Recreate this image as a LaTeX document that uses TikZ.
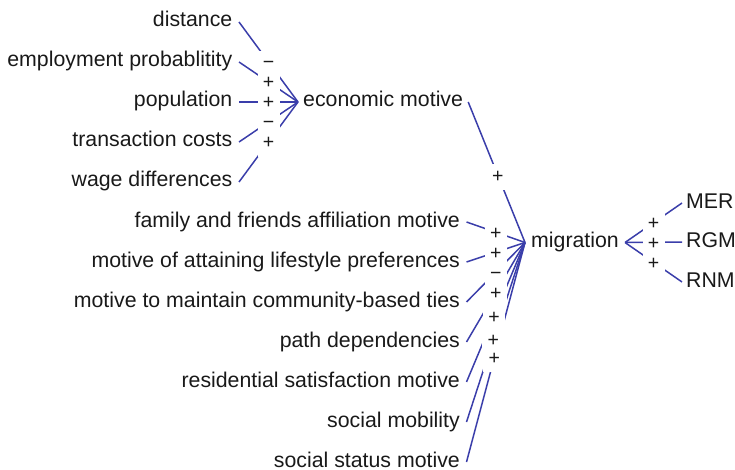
\documentclass[tikz,border=0pt]{standalone}
\usepackage{fontspec}
\setmainfont{Liberation Sans}
\usetikzlibrary{calc}
\pgfdeclarelayer{lines}
\pgfsetlayers{lines,main}
\definecolor{linkblue}{RGB}{58,62,170}
\definecolor{txt}{RGB}{25,25,25}
\tikzset{
  lbl/.style={inner ysep=0pt, text height=15pt, text depth=5pt, text=txt,
    font=\fontsize{21.3}{25}\selectfont},
  lft/.style={lbl, inner xsep=6.5pt, anchor=east},
  rgt/.style={lbl, inner xsep=5pt, anchor=west},
  link/.style={draw=linkblue, line width=1.5pt},
  sgn/.style={fill=white, inner sep=0pt, minimum width=22pt, text height=18.4pt,
    text depth=7.6pt, anchor=base, yshift=-7pt, text=txt,
    font=\fontsize{19.5}{24}\selectfont}
}
\newcommand\lnk[4][0.5]{%
  \begin{pgfonlayer}{lines}\draw[link] (#2) -- (#3);\end{pgfonlayer}
  \node[sgn] at ($(#2)!#1!(#3)$) {#4};}
\begin{document}
\begin{tikzpicture}[x=1pt,y=-1pt]
\useasboundingbox (0,0) rectangle (735,470);
% left group
\node[lft] (dist) at (239,22) {distance};
\node[lft] (empl) at (239,62) {employment probablitity};
\node[lft] (pop)  at (239,102) {population};
\node[lft] (trans) at (239,142) {transaction costs};
\node[lft] (wage) at (239,182) {wage differences};
\node[rgt] (econ) at (298,102) {economic motive};
% middle group
\node[lft] (fam)  at (466.5,222) {family and friends affiliation motive};
\node[lft] (life) at (466.5,262) {motive of attaining lifestyle preferences};
\node[lft] (comm) at (466.5,302) {motive to maintain community-based ties};
\node[lft] (path) at (466.5,342) {path dependencies};
\node[lft] (res)  at (466.5,382) {residential satisfaction motive};
\node[lft] (mob)  at (466.5,422) {social mobility};
\node[lft] (stat) at (466.5,462) {social status motive};
\node[rgt, inner xsep=6pt] (mig) at (525,242.5) {migration};
% right group
\node[rgt, inner xsep=4pt] (mer) at (682,203) {MER};
\node[rgt, inner xsep=4pt] (rgm) at (682,242) {RGM};
\node[rgt, inner xsep=4pt] (rnm) at (682,282) {RNM};
% links into economic motive
\lnk{dist.east}{econ.west}{−}
\lnk{empl.east}{econ.west}{+}
\lnk{pop.east}{econ.west}{+}
\lnk{trans.east}{econ.west}{−}
\lnk{wage.east}{econ.west}{+}
% links into migration
\lnk[0.52]{econ.east}{mig.west}{+}
\lnk{fam.east}{mig.west}{+}
\lnk{life.east}{mig.west}{+}
\lnk{comm.east}{mig.west}{−}
\lnk{path.east}{mig.west}{+}
\lnk[0.47]{res.east}{mig.west}{+}
\lnk[0.46]{mob.east}{mig.west}{+}
\lnk[0.475]{stat.east}{mig.west}{+}
% links from migration
\lnk{mig.east}{mer.west}{+}
\lnk{mig.east}{rgm.west}{+}
\lnk{mig.east}{rnm.west}{+}
\end{tikzpicture}
\end{document}
